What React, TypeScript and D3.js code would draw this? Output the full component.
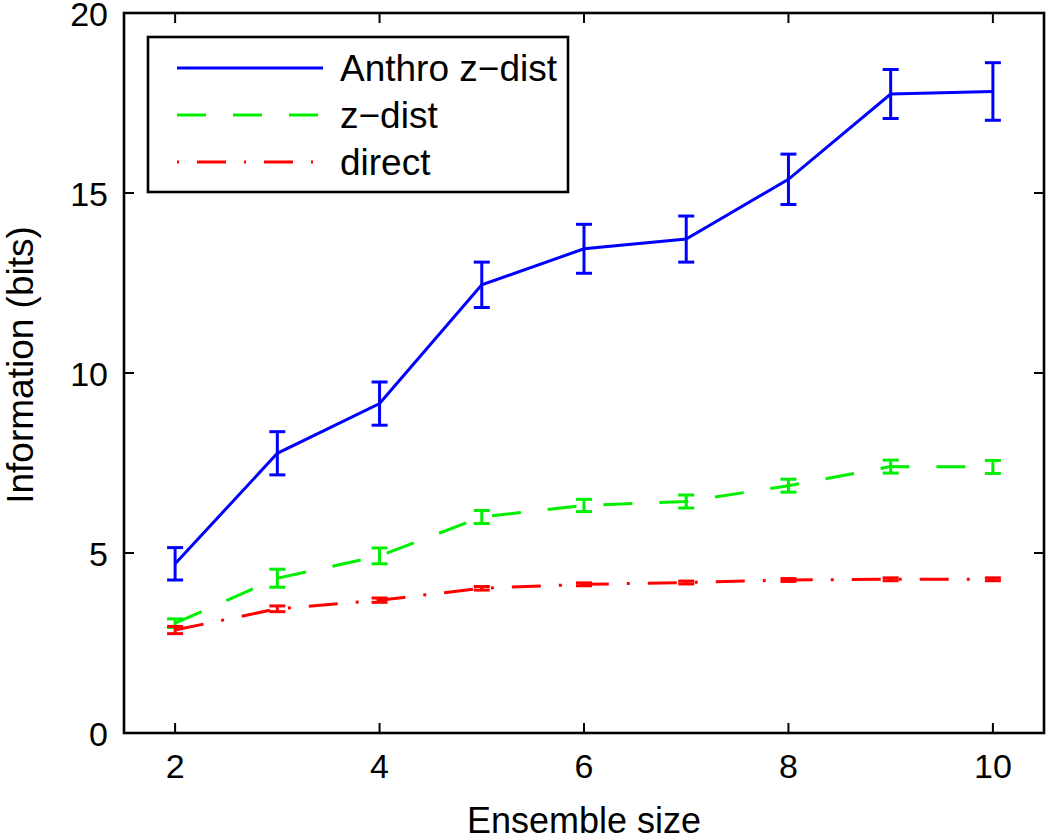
import React from "react";
import * as d3 from "d3";

const ensembleSizes = [2, 3, 4, 5, 6, 7, 8, 9, 10];
const anthroValues = [4.7, 7.77, 9.15, 12.45, 13.45, 13.72, 15.38, 17.75, 17.82];
const anthroErrors = [0.45, 0.6, 0.6, 0.63, 0.68, 0.64, 0.7, 0.68, 0.8];
const zdistValues = [3.05, 4.3, 4.92, 6.0, 6.32, 6.43, 6.87, 7.4, 7.39];
const zdistErrors = [0.12, 0.25, 0.22, 0.18, 0.17, 0.18, 0.18, 0.18, 0.18];
const directValues = [2.86, 3.45, 3.69, 4.02, 4.13, 4.18, 4.25, 4.27, 4.27];
const directErrors = [0.1, 0.08, 0.06, 0.05, 0.04, 0.04, 0.04, 0.04, 0.04];
const xTicks = [2, 4, 6, 8, 10];
const yTicks = [0, 5, 10, 15, 20];
const seriesNames = ["Anthro z\u2212dist", "z\u2212dist", "direct"];

const W = 1050;
const H = 840;
const M = { left: 124, right: 1044, top: 13, bottom: 733 };
const FONT = "'Liberation Sans', Arial, Helvetica, sans-serif";

export default function App() {
  const x = d3.scaleLinear().domain([1.5, 10.5]).range([M.left, M.right]);
  const y = d3.scaleLinear().domain([0, 20]).range([M.bottom, M.top]);
  const line = d3
    .line<[number, number]>()
    .x((d) => x(d[0]))
    .y((d) => y(d[1]));

  const series = [
    { name: seriesNames[0], vals: anthroValues, errs: anthroErrors, color: "#0000ff", dash: undefined as string | undefined },
    { name: seriesNames[1], vals: zdistValues, errs: zdistErrors, color: "#00ee00", dash: "29,27" },
    { name: seriesNames[2], vals: directValues, errs: directErrors, color: "#ff0000", dash: "29,18,3,18" },
  ];
  const capHalf = 8;
  const tickLen = 10;

  const legend = { x0: 148, y0: 37, x1: 568, y1: 192, lx0: 177, lx1: 323, tx: 340, rows: [68, 115, 162] };

  return (
    <svg width={W} height={H} style={{ position: "absolute", left: 0, top: 0, background: "#fff" }}>
      <rect x={0} y={0} width={W} height={H} fill="#fff" />
      {series.map((s, si) => (
        <g key={si}>
          <path
            d={line(ensembleSizes.map((e, i) => [e, s.vals[i]] as [number, number])) || ""}
            fill="none"
            stroke={s.color}
            strokeWidth={3}
            strokeDasharray={s.dash}
          />
          {ensembleSizes.map((e, i) => {
            const cx = x(e);
            const yt = y(s.vals[i] + s.errs[i]);
            const yb = y(s.vals[i] - s.errs[i]);
            return (
              <g key={i} stroke={s.color} strokeWidth={3}>
                <line x1={cx} x2={cx} y1={yt} y2={yb} />
                <line x1={cx - capHalf} x2={cx + capHalf} y1={yt} y2={yt} />
                <line x1={cx - capHalf} x2={cx + capHalf} y1={yb} y2={yb} />
              </g>
            );
          })}
        </g>
      ))}
      <rect x={M.left} y={M.top} width={M.right - M.left} height={M.bottom - M.top} fill="none" stroke="#000" strokeWidth={2.6} />
      {xTicks.map((t) => (
        <g key={"xt" + t} stroke="#000" strokeWidth={2}>
          <line x1={x(t)} x2={x(t)} y1={M.bottom} y2={M.bottom - tickLen} />
          <line x1={x(t)} x2={x(t)} y1={M.top} y2={M.top + tickLen} />
        </g>
      ))}
      {yTicks.map((t) => (
        <g key={"yt" + t} stroke="#000" strokeWidth={2}>
          <line x1={M.left} x2={M.left + tickLen} y1={y(t)} y2={y(t)} />
          <line x1={M.right} x2={M.right - tickLen} y1={y(t)} y2={y(t)} />
        </g>
      ))}
      {xTicks.map((t) => (
        <text key={"xl" + t} x={x(t)} y={778} textAnchor="middle" fontFamily={FONT} fontSize={34} fill="#000">
          {t}
        </text>
      ))}
      {yTicks.map((t) => (
        <text key={"yl" + t} x={108} y={y(t) + 13} textAnchor="end" fontFamily={FONT} fontSize={34} fill="#000">
          {t}
        </text>
      ))}
      <text x={(M.left + M.right) / 2} y={833} textAnchor="middle" fontFamily={FONT} fontSize={36} fill="#000">
        Ensemble size
      </text>
      <text
        transform={`translate(33, ${(M.top + M.bottom) / 2 - 8}) rotate(-90)`}
        textAnchor="middle"
        fontFamily={FONT}
        fontSize={37}
        fill="#000"
      >
        Information (bits)
      </text>
      <rect x={legend.x0} y={legend.y0} width={legend.x1 - legend.x0} height={legend.y1 - legend.y0} fill="#fff" stroke="#000" strokeWidth={2.6} />
      {series.map((s, si) => (
        <g key={"lg" + si}>
          <line
            x1={legend.lx0}
            x2={legend.lx1}
            y1={legend.rows[si]}
            y2={legend.rows[si]}
            stroke={s.color}
            strokeWidth={3}
            strokeDasharray={si === 2 ? "2,18,29,18" : s.dash}
          />
          <text x={legend.tx} y={legend.rows[si] + 13} fontFamily={FONT} fontSize={37} fill="#000">
            {s.name}
          </text>
        </g>
      ))}
    </svg>
  );
}
